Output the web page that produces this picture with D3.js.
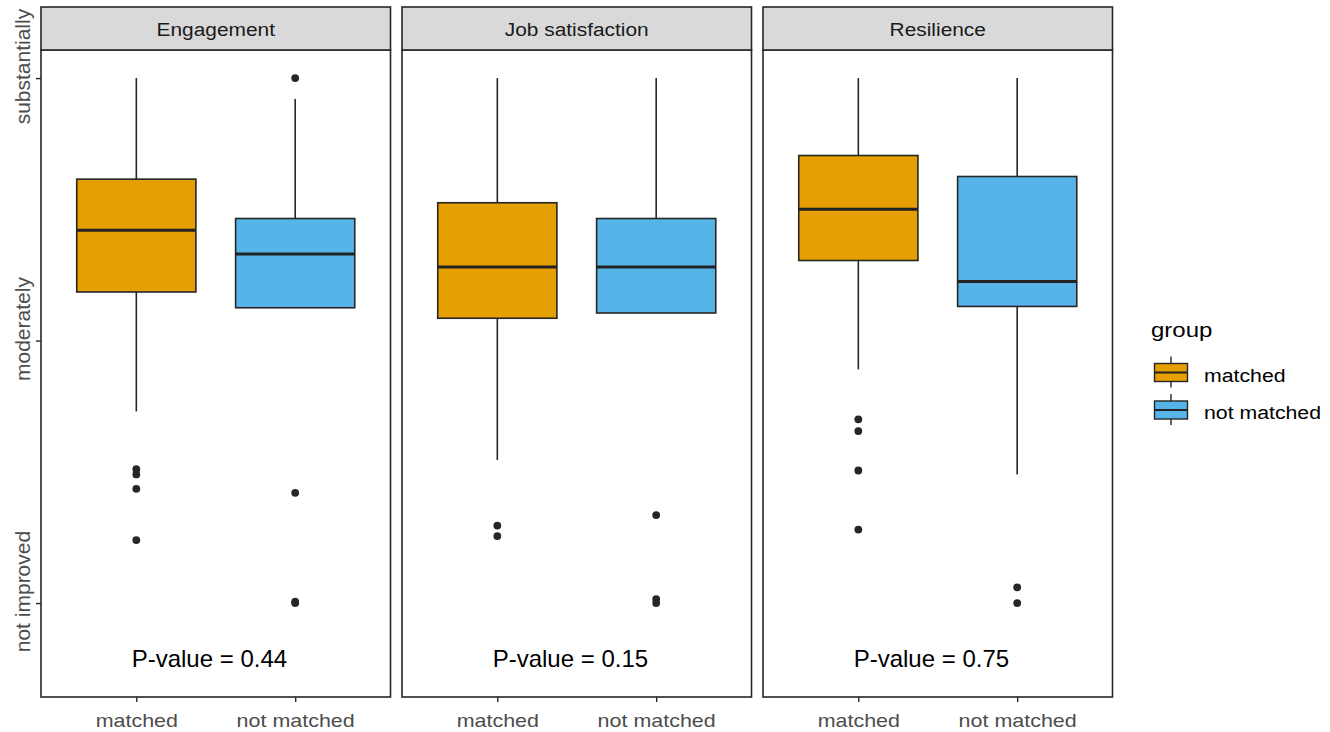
<!DOCTYPE html>
<html><head><meta charset="utf-8">
<script src="https://cdn.jsdelivr.net/npm/d3@7"></script>
<style>body{margin:0;background:#fff} svg{display:block;font-family:"Liberation Sans",Arial,sans-serif}</style>
</head><body><svg id="c" width="1330" height="732"></svg>
<script>
// ---------- data ----------
const facets = ["Engagement", "Job satisfaction", "Resilience"];
const groups = ["matched", "not matched"];
const groupColors = ["#E69F00", "#56B4E9"];
const yTickValues = [1, 2, 3];
const yTickLabels = ["not improved", "moderately", "substantially"];
// per facet: [matched, not matched]
const whiskerLow  = [[1.73, 2.125], [1.545, 2.105], [1.89, 1.49]];
const q1          = [[2.185, 2.125], [2.085, 2.105], [2.305, 2.13]];
const median      = [[2.42, 2.33], [2.28, 2.28], [2.50, 2.225]];
const q3          = [[2.615, 2.465], [2.525, 2.465], [2.705, 2.625]];
const whiskerHigh = [[3.0, 2.92], [3.0, 3.0], [3.0, 3.0]];
const outliers = [
  [[1.51, 1.49, 1.435, 1.24], [3.0, 1.42, 1.0, 1.005]],
  [[1.295, 1.255], [1.335, 1.015, 1.0]],
  [[1.70, 1.655, 1.505, 1.28], [1.06, 1.0]]
];
const pValues = ["0.44", "0.15", "0.75"];
const pValueX = 1.46, pValueY = 0.757;

// ---------- layout ----------
const svg = d3.select("#c");
const panelLeft = [41, 402, 763], panelW = 349.5;
const panelTop = 50, panelBottom = 697, stripTop = 7;
const dark = "#262626";
const y = d3.scaleLinear().domain([0.642, 3.107]).range([panelBottom, panelTop]);

facets.forEach((f, i) => {
  const x0 = panelLeft[i], x1 = x0 + panelW;
  const x = d3.scaleLinear().domain([0.4, 2.6]).range([x0, x1]);
  const g = svg.append("g");
  g.append("rect").attr("x", x0).attr("y", panelTop).attr("width", panelW)
    .attr("height", panelBottom - panelTop).attr("fill", "#fff");

  groups.forEach((grp, j) => {
    const cx = x(j + 1), hw = x(j + 1.375) - x(j + 1);
    const bg = g.append("g");
    bg.append("line").attr("x1", cx).attr("x2", cx)
      .attr("y1", y(q3[i][j])).attr("y2", y(whiskerHigh[i][j]))
      .attr("stroke", dark).attr("stroke-width", 1.6);
    bg.append("line").attr("x1", cx).attr("x2", cx)
      .attr("y1", y(q1[i][j])).attr("y2", y(whiskerLow[i][j]))
      .attr("stroke", dark).attr("stroke-width", 1.6);
    bg.append("rect").attr("x", cx - hw).attr("width", 2 * hw)
      .attr("y", y(q3[i][j])).attr("height", y(q1[i][j]) - y(q3[i][j]))
      .attr("fill", groupColors[j]).attr("stroke", dark).attr("stroke-width", 1.6);
    bg.append("line").attr("x1", cx - hw).attr("x2", cx + hw)
      .attr("y1", y(median[i][j])).attr("y2", y(median[i][j]))
      .attr("stroke", "#222").attr("stroke-width", 3);
    bg.selectAll("circle.o").data(outliers[i][j]).enter().append("circle")
      .attr("class", "o").attr("cx", cx).attr("cy", d => y(d)).attr("r", 3.9)
      .attr("fill", dark);
  });

  g.append("text").attr("x", x(pValueX)).attr("y", y(pValueY))
    .attr("text-anchor", "middle").attr("font-size", 24).attr("fill", "#000")
    .text("P-value = " + pValues[i]);

  // border
  g.append("rect").attr("x", x0).attr("y", panelTop).attr("width", panelW)
    .attr("height", panelBottom - panelTop).attr("fill", "none")
    .attr("stroke", dark).attr("stroke-width", 1.6);
  // strip
  g.append("rect").attr("x", x0).attr("y", stripTop).attr("width", panelW)
    .attr("height", panelTop - stripTop).attr("fill", "#D9D9D9")
    .attr("stroke", dark).attr("stroke-width", 1.6);
  g.append("text").attr("transform", `translate(${(x0 + x1) / 2},36) scale(1.16,1)`)
    .attr("text-anchor", "middle").attr("font-size", 18).attr("fill", "#1A1A1A")
    .text(f);

  // x axis
  const xa = g.append("g").attr("transform", `translate(0,${panelBottom})`)
    .call(d3.axisBottom(x).tickValues([1, 2]).tickFormat(d => groups[d - 1]).tickSize(5));
  xa.select(".domain").remove();
  xa.selectAll(".tick line").attr("stroke", dark).attr("stroke-width", 1.4);
  xa.selectAll(".tick text").attr("y", null).attr("dy", null)
    .attr("transform", "translate(0,29.5) scale(1.13,1)")
    .attr("font-size", 19).attr("font-family", null).attr("fill", "#4D4D4D");
});

// y axis
const ya = svg.append("g").attr("transform", `translate(${panelLeft[0]},0)`)
  .call(d3.axisLeft(y).tickValues(yTickValues).tickFormat((d, k) => yTickLabels[k]).tickSize(5));
ya.select(".domain").remove();
ya.selectAll(".tick line").attr("stroke", dark).attr("stroke-width", 1.4);
ya.selectAll(".tick text").attr("x", null).attr("dy", null)
  .attr("text-anchor", "middle").attr("transform", "translate(-11,-12) rotate(-90)")
  .attr("font-size", 21).attr("font-family", null).attr("fill", "#4D4D4D");

// legend
const lg = svg.append("g");
lg.append("text").attr("transform", "translate(1151,337) scale(1.2,1)")
  .attr("font-size", 20).attr("fill", "#000").text("group");
groups.forEach((grp, j) => {
  const cy = 372.5 + j * 37.5, cx = 1171;
  lg.append("line").attr("x1", cx).attr("x2", cx).attr("y1", cy - 16).attr("y2", cy + 15)
    .attr("stroke", dark).attr("stroke-width", 1.4);
  lg.append("rect").attr("x", cx - 16.5).attr("y", cy - 9).attr("width", 33).attr("height", 18)
    .attr("fill", groupColors[j]).attr("stroke", dark).attr("stroke-width", 1.4);
  lg.append("line").attr("x1", cx - 16.5).attr("x2", cx + 16.5).attr("y1", cy).attr("y2", cy)
    .attr("stroke", "#222").attr("stroke-width", 2.2);
  lg.append("text").attr("transform", `translate(1204,${cy + 9}) scale(1.12,1)`)
    .attr("font-size", 19).attr("fill", "#000").text(grp);
});
</script></body></html>
